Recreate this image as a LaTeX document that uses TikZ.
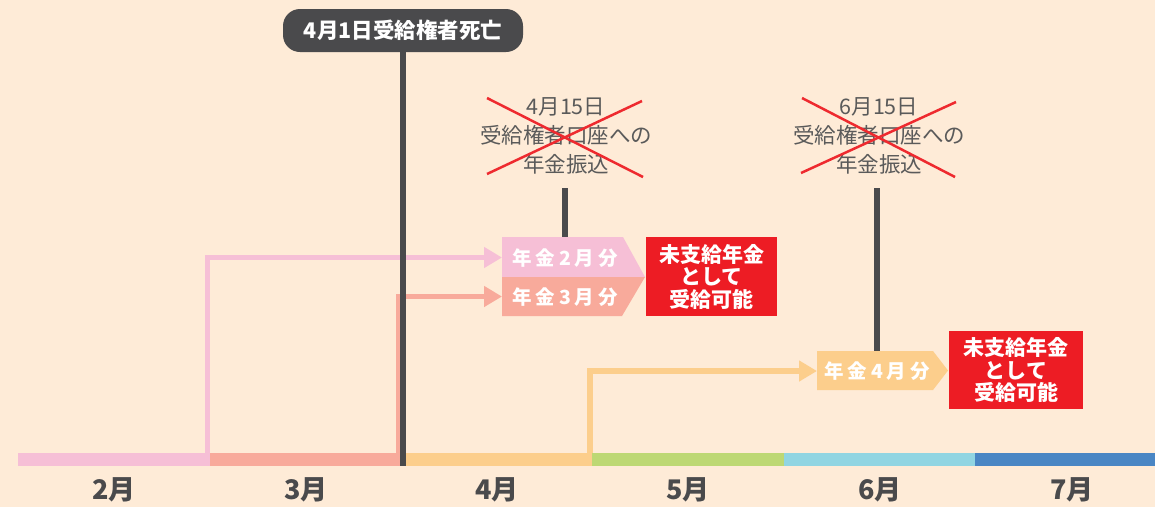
\documentclass[tikz,border=0pt]{standalone}
\usepackage{fontspec}
\setmainfont{Noto Sans CJK JP}
\usetikzlibrary{arrows.meta}
\definecolor{bgc}{HTML}{FEEBD7}
\definecolor{pinkc}{HTML}{F6BFD6}
\definecolor{salmonc}{HTML}{F8AA9B}
\definecolor{orangec}{HTML}{FCCE8C}
\definecolor{greenc}{HTML}{BDD874}
\definecolor{lbluec}{HTML}{91D5E2}
\definecolor{bluec}{HTML}{4A86C4}
\definecolor{darkc}{HTML}{4A4A4C}
\definecolor{redc}{HTML}{ED1C24}
\definecolor{crossc}{HTML}{EE2A2F}
\definecolor{graytext}{HTML}{5A5A5A}
\newcommand\lsp{\kern4pt}
\tikzset{
  pill/.style={fill=darkc, text=white, rounded corners=17pt, minimum width=240pt, minimum height=43pt, inner sep=0pt, font=\bfseries\fontsize{21.5}{24}\selectfont},
  darkline/.style={draw=darkc, line width=6pt},
  month/.style={text=darkc, font=\bfseries\fontsize{27}{30}\selectfont, inner sep=0pt},
  crosstext/.style={text=graytext, align=center, inner sep=0pt, font=\fontsize{21.5}{29}\selectfont},
  crossline/.style={draw=crossc, line width=2.5pt},
  penlabel/.style={text=white, inner sep=0pt, font=\bfseries\fontsize{19.5}{22}\selectfont},
  redbox/.style={fill=redc, text=white, align=center, inner sep=0pt, font=\bfseries\fontsize{21}{22.5}\selectfont},
  conn/.style={line width=5pt, -{Triangle[length=18pt,width=20pt]}},
}
\begin{document}
\begin{tikzpicture}[x=1pt,y=-1pt]
\fill[bgc] (0,0) rectangle (1155,507);
\useasboundingbox (0,0) rectangle (1155,507);

% coordinates
\coordinate (pinkstart) at (207.5,455);
\coordinate (salmonstart) at (398.5,455);
\coordinate (orangestart) at (590,455);
\coordinate (p2in) at (502,257.5);
\coordinate (p3in) at (502,296.5);
\coordinate (p4in) at (817,371);
\coordinate (deathbot) at (403,466);
\coordinate (d1top) at (565,188);
\coordinate (d1bot) at (565,238);
\coordinate (d2top) at (877,188);
\coordinate (d2bot) at (877,352);

% connectors
\draw[conn, draw=pinkc] (pinkstart) |- (p2in);
\draw[conn, draw=salmonc] (salmonstart) |- (p3in);
\draw[conn, draw=orangec, line width=6pt] (orangestart) |- (p4in);

% timeline
\fill[pinkc] (18,453) rectangle (210,466);
\fill[salmonc] (210,453) rectangle (402,466);
\fill[orangec] (402,453) rectangle (592,466);
\fill[greenc] (592,453) rectangle (784,466);
\fill[lbluec] (784,453) rectangle (975,466);
\fill[bluec] (975,453) rectangle (1155,466);

\node[month] (m2) at (114,490) {2月};
\node[month] (m3) at (306,490) {3月};
\node[month] (m4) at (497,490) {4月};
\node[month] (m5) at (688,490) {5月};
\node[month] (m6) at (880,490) {6月};
\node[month] (m7) at (1072,490) {7月};

% death marker
\node[pill] (death) at (403,30.5) {4月1日受給権者死亡};
\draw[darkline] (death) -- (deathbot);

% payment lines
\draw[darkline] (d1top) -- (d1bot);
\draw[darkline] (d2top) -- (d2bot);

% crossed texts
\node[crosstext] (x1) at (566,136) {4月15日\\受給権者口座への\\年金振込};
\draw[crossline] (487,98) -- (643,177);
\draw[crossline] (487,174) -- (642,101);
\node[crosstext] (x2) at (879,136) {6月15日\\受給権者口座への\\年金振込};
\draw[crossline] (802,98) -- (955,177);
\draw[crossline] (801,173) -- (956,102);

% pension boxes
\fill[pinkc] (502,237) -- (623,237) -- (645,277) -- (502,277) -- cycle;
\fill[salmonc] (502,277) -- (645,277) -- (622,316) -- (502,316) -- cycle;
\node[penlabel] (p2) at (565,258) {年\lsp 金\lsp 2\lsp 月\lsp 分};
\node[penlabel] (p3) at (565,297) {年\lsp 金\lsp 3\lsp 月\lsp 分};
\node[redbox, minimum width=131pt, minimum height=79pt] (r1) at (711.5,276.5) {未支給年金\\として\\受給可能};

\fill[orangec] (817,351) -- (933,351) -- (948,370.5) -- (933,390) -- (817,390) -- cycle;
\node[penlabel] (p4) at (877,371) {年\lsp 金\lsp 4\lsp 月\lsp 分};
\node[redbox, minimum width=134pt, minimum height=78pt] (r2) at (1016,370) {未支給年金\\として\\受給可能};
\end{tikzpicture}
\end{document}
